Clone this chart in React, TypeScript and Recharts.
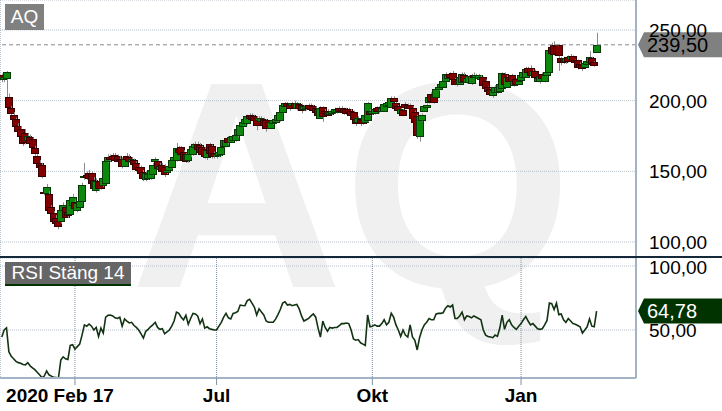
import React from 'react';
import { ComposedChart, Bar, Line, XAxis, YAxis, CartesianGrid, ReferenceLine } from 'recharts';

const FONT = '"Liberation Sans", Arial, Helvetica, sans-serif';

// Daily candles, one per trading day: [open, high, low, close]
const candles: [number, number, number, number][] = [
  [218, 219, 213, 215], [215, 218, 213, 217], [216, 221, 200, 220], [202.5, 205, 193, 195.5], [195, 196, 189, 191.5],
  [190, 192, 185, 187], [187, 188, 180, 182], [182, 184, 177, 178.5], [180, 182, 173, 175], [175, 177, 168, 170],
  [177, 180, 169, 171], [172, 177, 170, 175], [174, 176, 168, 170], [173, 174, 165, 167], [166.5, 168, 161, 163],
  [161, 162, 154, 156], [156, 158, 151, 153], [154.5, 156, 145, 147], [135.5, 138, 133, 134.7], [135, 141, 133, 139],
  [134, 136, 121, 123], [124.7, 126, 119, 120.5], [120.5, 122, 113, 115], [117, 119, 112, 113.5], [115, 116, 109, 111],
  [115, 124, 113, 122.5], [123, 128, 121, 126], [125, 127, 117, 118], [121, 123, 117, 119], [120, 132, 119, 130],
  [126, 134, 124, 132], [128, 130, 122, 124], [123, 129, 121, 127.5], [125, 131, 124, 129], [129, 142, 128, 140],
  [146, 156, 144, 147], [147.5, 150, 144, 146], [149, 151, 143, 145], [149, 150, 140, 142], [144, 146, 136, 138],
  [137, 145, 135, 143], [143, 145, 136, 138], [143, 144, 137, 138], [140, 147, 139, 145], [142, 158, 141, 157],
  [157, 162, 156, 160], [160, 162, 157, 158.5], [161, 163, 158, 159], [161.5, 163, 157, 158], [160.5, 162, 156, 157.5],
  [159, 161, 155, 157], [158.5, 160, 152, 153.5], [154, 161, 153, 159], [161, 163, 157, 158.5], [160, 162, 156, 157.5],
  [157, 160, 155, 158.5], [158, 159, 153, 155], [156, 157, 150, 152], [153, 155, 150, 151], [153, 154, 147, 149],
  [149.5, 151, 143, 145], [144.6, 150, 143, 149], [145, 149, 144, 148], [145, 152, 144, 151], [148, 156, 147, 154.5],
  [157, 160, 155, 159], [157, 158, 151, 152.5], [152, 156, 151, 154], [154.5, 156, 149, 150], [153, 155, 146, 148],
  [149.5, 152, 148, 151], [151, 155, 150, 153.5], [153, 159, 152, 158], [158, 162, 157, 160], [158, 170, 157, 166.5],
  [166, 168, 162, 164], [167, 168, 160, 162], [163.5, 165, 157, 158], [162, 163, 156, 157.5], [158, 163, 156, 162],
  [162, 168, 160, 166], [162, 170, 161, 168], [167, 171, 166, 169], [169, 171, 165, 166], [168.6, 170, 163, 164],
  [167, 168, 161, 162], [166, 167, 159, 161], [160, 166, 158, 165], [169, 170, 162, 163], [168, 169, 159, 161],
  [163, 164, 159, 161], [161, 163, 159, 162], [161.5, 166, 160, 164], [162, 168, 161, 167], [168, 173, 167, 172],
  [168, 173, 167, 172], [173.6, 175, 169, 170.5], [171, 175, 170, 174], [172, 176, 171, 175], [172, 177, 171, 175.7],
  [175.7, 181, 174, 180], [176, 184, 175, 183], [182, 186, 181, 185], [184, 188, 183, 187], [184, 190, 183, 189],
  [190, 191, 187, 188], [190, 191, 186, 187], [189, 190, 184, 186], [187.7, 189, 179, 183], [186, 189, 185, 188],
  [185.6, 189, 184, 187.7], [187, 188, 182, 183], [186, 187, 178, 181], [185, 186, 180, 182], [181, 186, 180, 185],
  [184, 187, 183, 186], [185, 188, 184, 187], [186, 191, 185, 190], [186, 193, 185, 192], [192, 198, 191, 197],
  [196, 199, 195, 198], [198.4, 199, 194, 196], [197.6, 198, 193, 195], [197, 199, 196, 198.4], [198.4, 200, 194, 195.5],
  [195, 199, 193, 198], [197.6, 198, 193, 195], [197, 198, 191, 193.5], [194, 197, 193, 196], [194.5, 197, 193, 196.5],
  [197, 198, 194, 195], [197, 198, 193, 194], [196.5, 197, 192, 193.5], [195, 196, 190, 192], [194, 195, 189, 190],
  [188, 196, 187, 195], [195.5, 196, 185, 189], [193, 194, 189, 191], [192.7, 194, 189, 190], [190.5, 193, 190, 192],
  [191, 194, 190, 193], [192, 195, 191, 194], [192, 195, 191, 194], [194.8, 196, 192, 193], [195, 196, 192, 193],
  [194.8, 195, 190, 192], [194, 195, 190, 191.5], [194, 195, 191, 192], [193, 194, 188, 190], [192, 193, 185, 187],
  [187, 188, 182, 184], [185, 189, 184, 188], [187, 188, 182, 184], [186, 187, 183, 184.5], [185, 191, 184, 190],
  [186, 199, 185, 198], [193, 194, 189, 190.5], [191, 194, 190, 193], [191, 195, 190, 194], [195, 196, 192, 193],
  [195.5, 196, 191, 192.7], [193, 196, 192, 195], [192.7, 198, 192, 197.6], [196, 199, 195, 198], [197, 200, 196, 199],
  [195.5, 203, 195, 202], [202, 203, 199, 200], [198, 199, 194, 195], [196, 197, 192, 193.5], [191.5, 195, 190, 194],
  [193.4, 194, 189, 190], [197.6, 199, 195, 195.5], [197, 198, 194, 195], [197, 198, 194, 195], [195, 196, 187, 188],
  [192, 193, 184, 185], [189, 190, 173, 176], [175, 190, 171, 189], [186, 191, 185, 190], [193, 197, 192, 196],
  [195.5, 198, 195, 197], [199, 204, 198, 202.6], [205, 206, 199, 200], [205, 206, 198, 199], [202.6, 209, 202, 208],
  [208, 211, 207, 210], [209.7, 213, 209, 212], [210, 215, 209, 214], [214, 220, 213, 219], [216, 219, 215, 218],
  [219, 220, 216, 217], [219.5, 221, 214, 215], [215, 216, 211, 212], [214, 215, 210, 211.5], [212, 218, 211, 217],
  [213, 220, 212, 219], [218.4, 220, 213, 214], [213, 217, 212, 216], [213, 218, 212, 217.5], [212.5, 219, 211, 217.5],
  [218.4, 220, 216, 217], [216.5, 219, 216, 218], [216, 219, 215, 218], [215.5, 218, 214, 217], [216.7, 217, 210, 211],
  [214, 215, 207, 209], [209.7, 210, 206, 207], [208, 209, 204, 205], [204, 208, 202, 207.5], [206, 211, 205, 209.7],
  [206, 211, 205, 210], [207, 213, 206, 212], [209, 220, 208, 219.5], [219, 220, 211, 212], [210, 218, 209, 217],
  [217, 218, 213, 214], [218, 219, 213, 214], [211, 215, 210, 214], [215.3, 216, 211, 212], [212, 215, 211, 214],
  [214.6, 219, 214, 218], [216.7, 221, 216, 220], [216.7, 224, 216, 222.4], [223, 224, 219, 220], [223, 225, 217, 218],
  [218, 222, 217, 221], [221, 222, 216, 217], [214, 217, 213, 216], [214, 218, 212, 217.5], [219, 220, 215, 216],
  [214, 219, 213, 218], [218, 221, 217, 220], [220, 237, 219, 235.8], [238, 241, 233, 234], [239.4, 242, 232, 233],
  [239, 240, 233, 234], [239.4, 240, 221, 232], [230, 231, 225, 227], [230.2, 231, 226, 227], [228, 231, 226, 230],
  [231, 232, 227, 228], [229.7, 233, 229, 231.6], [231.6, 232, 227, 228], [228.8, 229, 225, 227], [228.8, 229, 222, 224],
  [226, 227, 223, 224], [225, 226, 221, 223], [223.6, 228, 223, 226.9], [226, 229, 225, 228], [227, 235, 226, 230.9],
  [230.2, 231, 225, 226.4], [227, 228, 224, 225], [234.4, 248, 234, 239.5],
];

// RSI (close, 14) per trading day
const rsiValues: number[] = [
  44.5, 50, 51.6, 33, 29.5, 27.5, 25.5, 24.5, 24, 23,
  22.7, 24.5, 22, 20.5, 19, 17, 15, 12.8, 14, 18,
  15, 14, 13, 12.8, 12.5, 26.5, 29, 27.5, 27, 38,
  38.5, 35, 37, 39, 46, 54, 53, 54.7, 53, 50,
  52, 45, 51.5, 47.6, 60, 61.5, 61.7, 61, 59.5, 59,
  60, 53, 58.6, 57, 55.5, 56, 53.5, 52, 50, 47,
  43.7, 49, 50.5, 52.5, 54, 56, 52, 50.5, 51, 47,
  48.5, 50, 53, 57, 64, 63, 60, 58, 61.5, 54.5,
  59, 63, 62.5, 61, 55, 58.6, 51.5, 52.5, 51, 50.5,
  50, 50, 53, 56, 60, 63, 59.5, 58.6, 63, 63.5,
  64.5, 69.5, 69.2, 69, 73, 74, 71, 68, 61.7, 66.5,
  64, 61.7, 57, 56, 56, 56, 58.5, 62, 66, 71,
  72, 69.5, 70, 69, 69.5, 70, 66.5, 61, 57, 58,
  59, 61, 62.5, 60, 51.5, 44.5, 57, 52, 49, 52,
  51.5, 52, 52, 53.5, 55, 55, 55.5, 55, 50, 43,
  42, 42.5, 40, 39, 38, 61.7, 52.5, 53, 54, 53,
  53, 55, 58, 54, 56, 63, 60, 54, 50, 45,
  50, 46, 44.5, 54, 44.5, 42, 34.4, 44, 50, 54,
  56, 59, 58, 58, 62.5, 63, 63, 63.5, 67, 69,
  68, 69.5, 59, 59, 61, 64, 58, 61, 60.5, 59.5,
  61, 60, 59, 58, 50, 46, 45, 44.5, 44, 46,
  45, 51.5, 61.7, 50.5, 56, 58, 54, 52, 50.5, 53,
  55, 58, 60.5, 57, 54, 55, 53, 51, 50.5, 51,
  54, 57.5, 71, 70.5, 66, 71, 62, 62.5, 58, 56,
  59, 57, 55, 54.5, 53.5, 52.5, 47.6, 50, 52.5, 58.6,
  53, 52.5, 64.78,
];

const dateTicks = [31, 91, 157, 220];
const dateTickLabels = ['2020 Feb 17', 'Jul', 'Okt', 'Jan'];
const priceTicks = [100, 150, 200, 250];
const rsiTicks = [50, 100];
const lastPrice = 239.5;
const lastRsi = 64.78;

const xDomain: [number, number] = [-0.76, 268.7];
const priceDomain: [number, number] = [89.4, 271.2];
const rsiDomain: [number, number] = [12.5, 106.25];

const data = candles.map((k, i) => ({
  i,
  o: k[0],
  h: k[1],
  l: k[2],
  c: k[3],
  range: [k[2], k[1]],
  rsi: rsiValues[i],
}));

const fmt = (v: number) => v.toFixed(2).replace('.', ',');

const Candle = (props: any) => {
  const { x, y, width, height, payload } = props;
  if (x == null || y == null || !payload) return null;
  const cx = Math.round(x + width / 2);
  const top = Math.min(y, y + height);
  const span = Math.abs(height);
  const k = span / (payload.h - payload.l);
  const py = (v: number) => top + (payload.h - v) * k;
  const up = payload.c >= payload.o;
  const bt = Math.round(py(Math.max(payload.o, payload.c))) + 0.5;
  const bb = Math.round(py(Math.min(payload.o, payload.c))) + 0.5;
  return (
    <g>
      <line x1={cx + 0.5} x2={cx + 0.5} y1={top} y2={top + span} stroke="#8c8c8c" strokeWidth={1} />
      <rect
        x={cx - 3.5}
        y={bt}
        width={7}
        height={Math.max(bb - bt, 1)}
        fill={up ? '#0c880c' : '#820000'}
        stroke={up ? '#083808' : '#380000'}
        strokeWidth={1}
      />
    </g>
  );
};

const PriceTag = (props: any) => {
  const { viewBox, text, fill, color } = props;
  if (!viewBox) return null;
  const x0 = viewBox.x + viewBox.width + 2;
  const cy = viewBox.y;
  const h = 12.5;
  return (
    <g>
      <polygon
        points={`${x0},${cy} ${x0 + 6},${cy - h} ${x0 + 90},${cy - h} ${x0 + 90},${cy + h} ${x0 + 6},${cy + h}`}
        fill={fill}
      />
      <text x={x0 + 9} y={cy} dy={7} fontSize={20} fill={color} fontFamily={FONT}>
        {text}
      </text>
    </g>
  );
};

const YTick = (props: any) => {
  const { x, y, payload } = props;
  return (
    <text x={x} y={y} dy={7} fontSize={19} fill="#000" fontFamily={FONT} textAnchor="start">
      {fmt(payload.value)}
    </text>
  );
};

const XTick = (props: any) => {
  const { x, y, payload } = props;
  const idx = dateTicks.indexOf(payload.value);
  const label = idx >= 0 ? dateTickLabels[idx] : '';
  const dx = idx === 0 ? -15 : 0;
  return (
    <text x={x + dx} y={y} dy={15} textAnchor="middle" fontSize={19} fontWeight="bold" fill="#000" fontFamily={FONT}>
      {label}
    </text>
  );
};

const BORDER = '#a3b3c6';
const VGRID = '#7d90a5';
const HGRID = '#b8c0c8';

export default function App() {
  return (
    <div
      style={{
        position: 'absolute',
        left: 0,
        top: 0,
        width: 722,
        height: 411,
        overflow: 'hidden',
        background: '#ffffff',
        fontFamily: FONT,
      }}
    >
      <svg width={722} height={411} style={{ position: 'absolute', left: 0, top: 0 }}>
        <text x={130} y={287} fontSize={295} fontWeight="bold" fill="#f0f0f0" fontFamily={FONT}>
          AQ
        </text>
      </svg>

      <div style={{ position: 'absolute', left: 0, top: 0 }}>
        <ComposedChart width={722} height={257} data={data} margin={{ top: 0, right: 0, left: 0, bottom: 0 }}>
          <CartesianGrid horizontal={true} vertical={false} stroke={HGRID} strokeDasharray="1 1" />
          <CartesianGrid horizontal={false} vertical={true} stroke={VGRID} strokeDasharray="1 1" />
          <XAxis
            dataKey="i"
            type="number"
            domain={xDomain}
            allowDataOverflow
            ticks={dateTicks}
            tick={false}
            axisLine={false}
            tickLine={false}
            height={0}
          />
          <YAxis
            orientation="right"
            width={86}
            domain={priceDomain}
            allowDataOverflow
            ticks={priceTicks}
            tick={<YTick />}
            tickLine={false}
            tickSize={0}
            tickMargin={13}
            axisLine={{ stroke: BORDER, strokeWidth: 2 }}
          />
          <Bar dataKey="range" shape={<Candle />} isAnimationActive={false} />
          <ReferenceLine
            y={lastPrice}
            stroke="#8a8a8a"
            strokeDasharray="4 3"
            label={<PriceTag text={fmt(lastPrice)} fill="#808080" color="#000" />}
          />
        </ComposedChart>
      </div>

      <div style={{ position: 'absolute', left: 0, top: 258 }}>
        <ComposedChart width={722} height={153} data={data} margin={{ top: 0, right: 0, left: 0, bottom: 0 }}>
          <CartesianGrid horizontal={true} vertical={false} stroke={HGRID} strokeDasharray="1 1" />
          <CartesianGrid horizontal={false} vertical={true} stroke={VGRID} strokeDasharray="1 1" />
          <XAxis
            dataKey="i"
            type="number"
            domain={xDomain}
            allowDataOverflow
            ticks={dateTicks}
            tick={<XTick />}
            height={33}
            tickSize={7}
            tickMargin={2}
            tickLine={{ stroke: VGRID }}
            axisLine={{ stroke: BORDER, strokeWidth: 2 }}
          />
          <YAxis
            orientation="right"
            width={86}
            domain={rsiDomain}
            allowDataOverflow
            ticks={rsiTicks}
            tick={<YTick />}
            tickLine={false}
            tickSize={0}
            tickMargin={13}
            axisLine={{ stroke: BORDER, strokeWidth: 2 }}
          />
          <Line
            dataKey="rsi"
            type="linear"
            stroke="#123312"
            strokeWidth={1.6}
            dot={false}
            isAnimationActive={false}
          />
          <ReferenceLine
            y={lastRsi}
            stroke="none"
            label={<PriceTag text={fmt(lastRsi)} fill="#003300" color="#fff" />}
          />
        </ComposedChart>
      </div>

      <div style={{ position: 'absolute', left: 0, top: 256, width: 722, height: 2, background: '#15283a' }} />

      <div
        style={{
          position: 'absolute',
          left: 5,
          top: 4,
          width: 39,
          height: 26,
          background: '#808080',
          color: '#fff',
          fontSize: 19,
          lineHeight: '26px',
          textAlign: 'center',
        }}
      >
        AQ
      </div>
      <div
        style={{
          position: 'absolute',
          left: 5,
          top: 262,
          width: 126,
          height: 22,
          background: '#666666',
          borderBottom: '2px solid #003300',
          color: '#fff',
          fontSize: 19,
          lineHeight: '22px',
          textAlign: 'center',
          whiteSpace: 'nowrap',
        }}
      >
        RSI Stäng 14
      </div>
    </div>
  );
}
